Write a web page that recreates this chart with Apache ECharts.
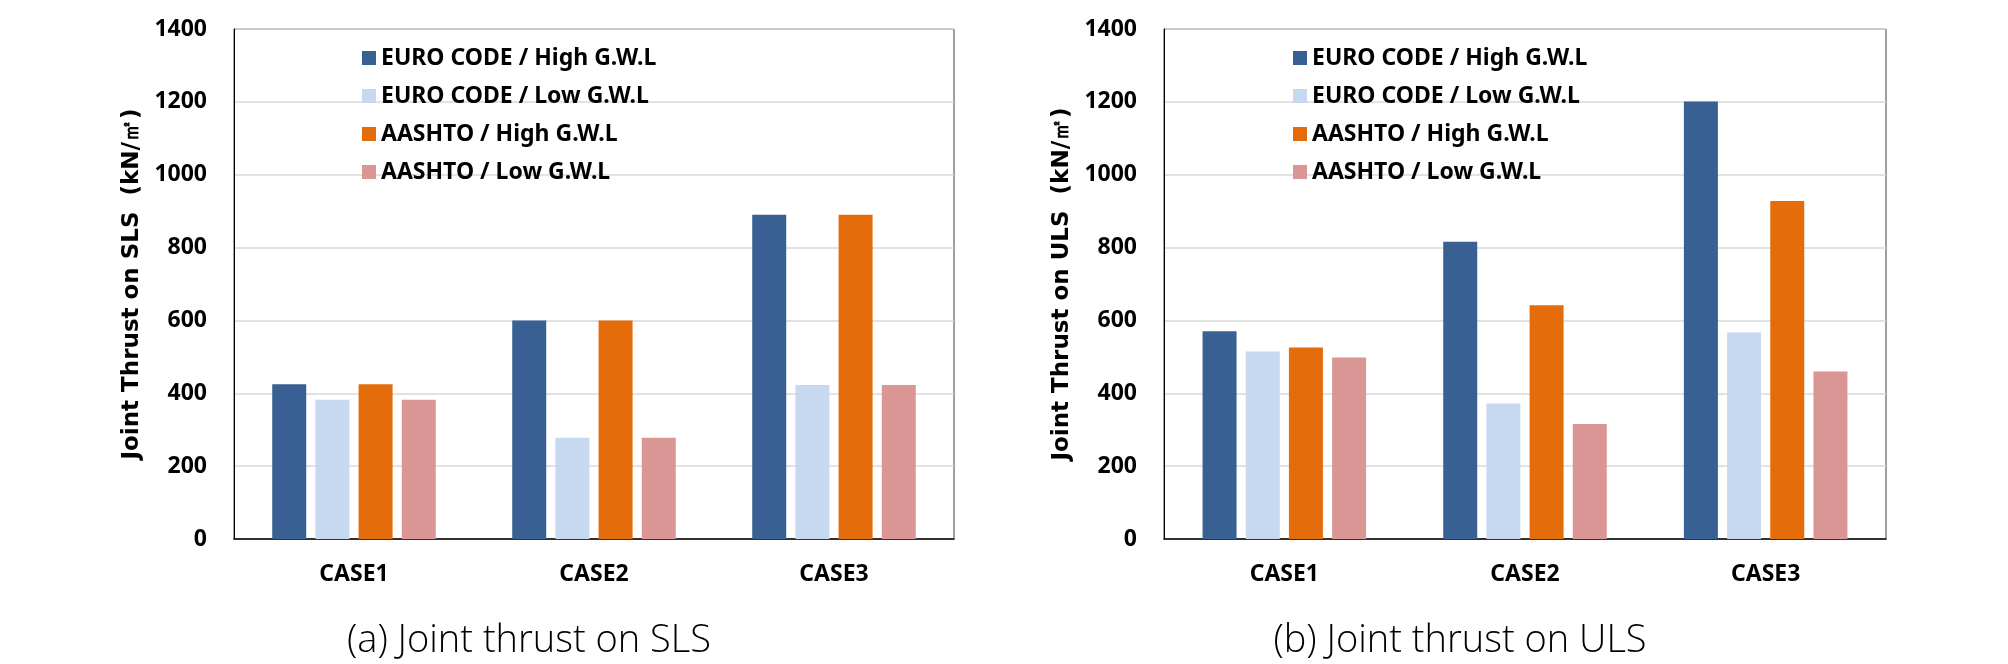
<!DOCTYPE html>
<html>
<head>
<meta charset="utf-8">
<script src="https://cdn.jsdelivr.net/npm/echarts@6/dist/echarts.min.js"></script>
<style>
html,body{margin:0;padding:0;background:#fff;}
#chart{width:2008px;height:664px;}
</style>
</head>
<body>
<div id="chart"></div>
<script>
var categories = ['CASE1', 'CASE2', 'CASE3'];
var seriesNames = ['EURO CODE / High G.W.L', 'EURO CODE / Low G.W.L', 'AASHTO / High G.W.L', 'AASHTO / Low G.W.L'];
var colors = ['#386092', '#C6D9F1', '#E46C0A', '#D99694'];
var yTicks = [0, 200, 400, 600, 800, 1000, 1200, 1400];

// (a) SLS
var slsEuroHigh = [425, 600, 890];
var slsEuroLow = [382, 278, 423];
var slsAashtoHigh = [425, 600, 890];
var slsAashtoLow = [382, 278, 423];

// (b) ULS
var ulsEuroHigh = [570, 816, 1201];
var ulsEuroLow = [515, 372, 567];
var ulsAashtoHigh = [526, 642, 928];
var ulsAashtoLow = [498, 316, 460];

var slsData = [slsEuroHigh, slsEuroLow, slsAashtoHigh, slsAashtoLow];
var ulsData = [ulsEuroHigh, ulsEuroLow, ulsAashtoHigh, ulsAashtoLow];

var tickFont = {fontFamily: 'Noto Sans', fontWeight: 'bold', fontSize: 23, color: '#000'};

function makeXAxis(gi) {
  return {
    type: 'category', gridIndex: gi, data: categories,
    axisLine: {show: true, lineStyle: {color: '#000', width: 1.5}},
    axisTick: {show: false},
    axisLabel: Object.assign({margin: 24}, tickFont),
    splitLine: {show: false}
  };
}
function makeYAxis(gi, name) {
  return {
    type: 'value', gridIndex: gi, min: yTicks[0], max: yTicks[yTicks.length - 1], interval: 200,
    name: name, nameLocation: 'middle', nameRotate: 90, nameGap: 90,
    nameTextStyle: {fontFamily: 'DejaVu Sans', fontWeight: 'bold', fontSize: 23, color: '#000'},
    axisLine: {show: true, lineStyle: {color: '#000', width: 1}},
    axisTick: {show: false},
    axisLabel: Object.assign({margin: 27, formatter: function (v) { return String(v); }}, tickFont),
    splitLine: {show: true, lineStyle: {color: '#d9d9d9', width: 1.5}}
  };
}

var series = [];
[slsData, ulsData].forEach(function (set, gi) {
  set.forEach(function (vals, i) {
    series.push({
      name: seriesNames[i], type: 'bar', xAxisIndex: gi, yAxisIndex: gi,
      data: vals, barWidth: 34, barGap: '27%',
      itemStyle: {color: colors[i]},
      emphasis: {disabled: true}
    });
  });
});

function makeLegend(left) {
  return {
    orient: 'vertical', left: left, top: 41, data: seriesNames,
    icon: 'rect', itemWidth: 14, itemHeight: 14, itemGap: 14,
    textStyle: {fontFamily: 'Noto Sans', fontWeight: 'bold', fontSize: 23, color: '#000', lineHeight: 24},
    selectedMode: false
  };
}

var option = {
  animation: false,
  backgroundColor: '#fff',
  color: colors,
  grid: [
    {left: 234, top: 29, width: 720, height: 510, show: true, borderColor: '#404040', borderWidth: 1, backgroundColor: 'transparent'},
    {left: 1164, top: 29, width: 722, height: 510, show: true, borderColor: '#404040', borderWidth: 1, backgroundColor: 'transparent'}
  ],
  xAxis: [makeXAxis(0), makeXAxis(1)],
  yAxis: [makeYAxis(0, 'Joint Thrust on SLS  (kN/㎡)'), makeYAxis(1, 'Joint Thrust on ULS  (kN/㎡)')],
  legend: [makeLegend(357), makeLegend(1288)],
  series: series,
  graphic: [
    {type: 'text', x: 529, y: 641, style: {text: '(a) Joint thrust on SLS', textAlign: 'center', textVerticalAlign: 'middle', fontFamily: 'Open Sans', fontWeight: 300, fontSize: 38, fill: '#000'}},
    {type: 'text', x: 1460, y: 641, style: {text: '(b) Joint thrust on ULS', textAlign: 'center', textVerticalAlign: 'middle', fontFamily: 'Open Sans', fontWeight: 300, fontSize: 38, fill: '#000'}}
  ]
};

var chart = echarts.init(document.getElementById('chart'), null, {renderer: 'canvas'});
chart.setOption(option);
</script>
</body>
</html>
